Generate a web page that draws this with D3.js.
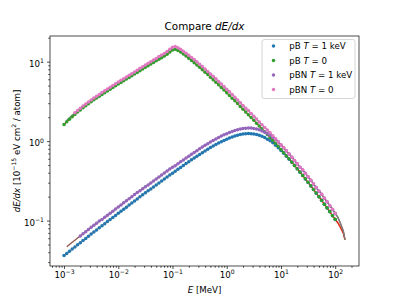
<!DOCTYPE html>
<html><head><meta charset="utf-8">
<script src="https://cdn.jsdelivr.net/npm/d3@7"></script>
<style>
body{margin:0;background:#fff}
svg{display:block}
text{font-family:"DejaVu Sans",sans-serif;fill:#000}
</style>
</head><body>
<svg id="chart" width="399" height="299"></svg>
<script>
// Energy grid [MeV]
const energy = [0.001,0.001122,0.001259,0.001413,0.001585,0.001778,0.001995,0.002239,0.002512,0.002818,
0.003162,0.003548,0.003981,0.004467,0.005012,0.005623,0.00631,0.007079,0.007943,0.008913,
0.01,0.01122,0.01259,0.01413,0.01585,0.01778,0.01995,0.02239,0.02512,0.02818,
0.03162,0.03548,0.03981,0.04467,0.05012,0.05623,0.0631,0.07079,0.07943,0.08913,
0.1,0.1122,0.1259,0.1413,0.1585,0.1778,0.1995,0.2239,0.2512,0.2818,
0.3162,0.3548,0.3981,0.4467,0.5012,0.5623,0.631,0.7079,0.7943,0.8913,
1,1.122,1.259,1.413,1.585,1.778,1.995,2.239,2.512,2.818,
3.162,3.548,3.981,4.467,5.012,5.623,6.31,7.079,7.943,8.913,
10,11.22,12.59,14.13,15.85,17.78,19.95,22.39,25.12,28.18,
31.62,35.48,39.81,44.67,50.12,56.23,63.1,70.79,79.43,89.13,
100];

const pB_1keV = [0.03631,0.03864,0.04111,0.04375,0.04656,0.04955,0.05272,0.05610,0.05970,0.06353,
0.06761,0.07194,0.07638,0.08110,0.08610,0.09141,0.09705,0.1030,0.1094,0.1161,
0.1233,0.1309,0.1390,0.1476,0.1567,0.1663,0.1766,0.1875,0.1991,0.2109,
0.2234,0.2366,0.2506,0.2655,0.2812,0.2979,0.3155,0.3342,0.3540,0.3741,
0.3954,0.4178,0.4416,0.4667,0.4932,0.5212,0.5508,0.5808,0.6124,0.6457,
0.6808,0.7161,0.7534,0.7907,0.8299,0.8690,0.9078,0.9462,0.9840,1.021,
1.057,1.091,1.125,1.156,1.183,1.208,1.227,1.239,1.245,1.242,
1.230,1.211,1.183,1.148,1.107,1.059,1.007,0.9506,0.8892,0.8260,
0.7638,0.7031,0.6457,0.5916,0.5408,0.4932,0.449,0.407,0.369,0.334,
0.302,0.273,0.246,0.221,0.199,0.179,0.160,0.144,0.129,0.115,
0.103];

const pB_T0 = [1.622,1.750,1.884,2.023,2.168,2.317,2.472,2.630,2.793,2.958,
3.126,3.304,3.483,3.673,3.873,4.074,4.285,4.508,4.742,4.977,
5.224,5.483,5.754,6.039,6.339,6.653,6.982,7.328,7.691,8.072,
8.472,8.892,9.333,9.772,10.23,10.72,11.22,11.75,12.39,13.24,
14.06,14.29,13.80,13.18,12.45,11.75,11.04,10.35,9.705,9.078,
8.492,7.925,7.379,6.871,6.383,5.929,5.508,5.105,4.732,4.385,
4.064,3.758,3.475,3.214,2.965,2.735,2.523,2.328,2.148,1.977,
1.824,1.679,1.549,1.426,1.312,1.208,1.112,1.023,0.940,0.861,
0.787,0.719,0.656,0.598,0.545,0.495,0.450,0.408,0.370,0.335,
0.303,0.274,0.247,0.222,0.200,0.180,0.161,0.145,0.130,0.116,
0.104];

const pBN_1keV = [0.04415,0.04699,0.04999,0.05320,0.05662,0.06025,0.06411,0.06822,0.07260,0.07725,
0.08221,0.08748,0.09288,0.09862,0.1035,0.1099,0.1167,0.1238,0.1315,0.1396,
0.1482,0.1573,0.1671,0.1774,0.1884,0.1999,0.2123,0.2254,0.2367,0.2508,
0.2656,0.2813,0.2980,0.3157,0.3343,0.3542,0.3751,0.3974,0.4209,0.4448,
0.4701,0.4909,0.5189,0.5484,0.5795,0.6124,0.6472,0.6824,0.7196,0.7587,
0.7999,0.8414,0.8852,0.9291,0.9751,1.021,1.067,1.112,1.156,1.200,
1.242,1.282,1.322,1.358,1.390,1.419,1.442,1.456,1.463,1.459,
1.445,1.422,1.387,1.343,1.297,1.245,1.189,1.122,1.052,0.9727,
0.8954,0.8241,0.7551,0.688,0.626,0.570,0.518,0.469,0.434,0.393,
0.355,0.321,0.289,0.260,0.234,0.214,0.191,0.172,0.154,0.138,
0.123];

const pBN_T0 = [1.698,1.832,1.973,2.118,2.270,2.426,2.588,2.769,2.941,3.115,
3.292,3.479,3.668,3.868,4.098,4.310,4.534,4.769,5.017,5.266,
5.527,5.823,6.111,6.413,6.732,7.065,7.415,7.782,8.245,8.653,
9.082,9.532,10.00,10.48,10.97,11.59,12.13,12.70,13.39,14.31,
15.20,15.53,15.00,14.33,13.53,12.77,12.00,11.25,10.64,9.950,
9.307,8.686,8.087,7.531,6.996,6.557,6.092,5.646,5.234,4.850,
4.495,4.179,3.864,3.574,3.297,3.041,2.806,2.589,2.421,2.228,
2.056,1.892,1.746,1.607,1.479,1.380,1.270,1.168,1.073,0.983,
0.899,0.829,0.756,0.689,0.628,0.571,0.519,0.470,0.435,0.394,
0.356,0.322,0.290,0.261,0.235,0.215,0.192,0.173,0.155,0.139,
0.124];

// continuous curves extend beyond the sampled points
const tailEnergy = [112.2,125.9,141.3,151.4];
const pB_tail = [0.0933,0.0813,0.0692,0.0575];
const pBN_tail = [0.1096,0.0912,0.0741,0.0575];

// first energy at which each dotted series is shown
const dotStartE = [0.001, 0.001, 0.0019, 0.0015];
const lineStartE = [0.001, 0.001, 0.0011, 0.0011];

const seriesNames = ["pB", "pB", "pBN", "pBN"];
const seriesTLabel = ["1 keV", "0", "1 keV", "0"];
const dotColors = ["#1f77b4", "#2ca02c", "#9467bd", "#e377c2"];
const lineColors = ["#ff7f0e", "#d62728", "#8c564b", "#7f7f7f"];

const xMajor = [1e-3, 1e-2, 1e-1, 1, 10, 100];
const xMajorExp = ["\u22123", "\u22122", "\u22121", "0", "1", "2"];
const yMajor = [0.1, 1, 10];
const yMajorExp = ["\u22121", "0", "1"];

// ---------------------------------------------------------------
const seriesVals = [pB_1keV, pB_T0, pBN_1keV, pBN_T0];
const seriesTails = [pB_tail, pB_tail, pBN_tail, pBN_tail];

const svg = d3.select("#chart");
const L = 50, R = 359, T = 36, B = 266;

const allE = energy.concat(tailEnergy);
const allV = seriesVals.flat().concat(pB_tail, pBN_tail);
function padLog(ext){ const a=Math.log10(ext[0]), b=Math.log10(ext[1]), p=0.05*(b-a); return [10**(a-p), 10**(b+p)]; }
const x = d3.scaleLog().domain(padLog(d3.extent(allE))).range([L, R]);
const y = d3.scaleLog().domain(padLog(d3.extent(allV))).range([B, T]);

const clip = svg.append("clipPath").attr("id","clip").append("rect")
  .attr("x",L).attr("y",T).attr("width",R-L).attr("height",B-T);
const plot = svg.append("g").attr("clip-path","url(#clip)");

const line = d3.line().x(d=>x(d[0])).y(d=>y(d[1]));
seriesVals.forEach((vals,k)=>{
  const pts = energy.map((e,i)=>[e, vals[i]]).filter(d=>d[0] >= lineStartE[k])
    .concat(tailEnergy.map((e,i)=>[e, seriesTails[k][i]]));
  plot.append("path").attr("d", line(pts)).attr("fill","none")
    .attr("stroke", lineColors[k]).attr("stroke-width",1.3);
});
seriesVals.forEach((vals,k)=>{
  const pts = energy.map((e,i)=>[e, vals[i]]).filter(d=>d[0] >= dotStartE[k]);
  plot.append("g").selectAll("circle").data(pts).join("circle")
    .attr("cx", d=>x(d[0])).attr("cy", d=>y(d[1])).attr("r",1.75)
    .attr("fill", dotColors[k]);
});

// minor tick values
function minors(scale){
  const [a,b] = scale.domain(); const out=[];
  for(let e=Math.floor(Math.log10(a)); e<=Math.ceil(Math.log10(b)); e++)
    for(let m=2;m<=9;m++){ const v=m*10**e; if(v>=a && v<=b) out.push(v); }
  return out;
}

// x axis
const gxMinor = svg.append("g").attr("transform",`translate(0,${B})`)
  .call(d3.axisBottom(x).tickValues(minors(x)).tickSize(1.75).tickFormat(""));
const gx = svg.append("g").attr("transform",`translate(0,${B})`)
  .call(d3.axisBottom(x).tickValues(xMajor).tickSize(3).tickFormat(""));
gx.selectAll(".tick").append("text").attr("y",11.6).attr("text-anchor","middle")
  .style("font-size","8.66px")
  .each(function(d,i){
    const t=d3.select(this);
    t.append("tspan").text("10");
    t.append("tspan").attr("dy",-3.6).style("font-size","6.1px").text(xMajorExp[i]);
  });
// shift labels so "10^e" group is centered on the tick
gx.selectAll(".tick text").attr("dx", function(){ return 0; });

// y axis
const gyMinor = svg.append("g").attr("transform",`translate(${L},0)`)
  .call(d3.axisLeft(y).tickValues(minors(y)).tickSize(1.75).tickFormat(""));
const gy = svg.append("g").attr("transform",`translate(${L},0)`)
  .call(d3.axisLeft(y).tickValues(yMajor).tickSize(3).tickFormat(""));
gy.selectAll(".tick").append("text").attr("x",-6).attr("y",4.5).attr("text-anchor","end")
  .style("font-size","8.66px")
  .each(function(d,i){
    const t=d3.select(this);
    t.append("tspan").text("10");
    t.append("tspan").attr("dy",-3.6).style("font-size","6.1px").text(yMajorExp[i]);
  });

[gx,gy,gxMinor,gyMinor].forEach(g=>{
  g.select(".domain").remove();
  g.selectAll(".tick line").attr("stroke","#000").attr("stroke-width",0.7);
});

svg.append("rect").attr("x",L).attr("y",T).attr("width",R-L).attr("height",B-T)
  .attr("fill","none").attr("stroke","#000").attr("stroke-width",0.7);

// title & labels
const title = svg.append("text").attr("x",(L+R)/2).attr("y",30).attr("text-anchor","middle")
  .style("font-size","10.4px");
title.append("tspan").text("Compare ");
title.append("tspan").style("font-style","italic").text("dE/dx");

const xl = svg.append("text").attr("x",(L+R)/2).attr("y",292.5).attr("text-anchor","middle")
  .style("font-size","8.66px");
xl.append("tspan").style("font-style","italic").text("E");
xl.append("tspan").text(" [MeV]");

const yl = svg.append("text").attr("transform",`translate(19.5,${(T+B)/2}) rotate(-90)`)
  .attr("text-anchor","middle").style("font-size","8.66px");
yl.append("tspan").style("font-style","italic").text("dE/dx");
yl.append("tspan").text(" [10");
yl.append("tspan").attr("dy",-3.6).style("font-size","6.1px").text("\u221215");
yl.append("tspan").attr("dy",3.6).text(" eV cm");
yl.append("tspan").attr("dy",-3.6).style("font-size","6.1px").text("2");
yl.append("tspan").attr("dy",3.6).text(" / atom]");

// legend
const lg = svg.append("g");
lg.append("rect").attr("x",262).attr("y",39.5).attr("width",93).attr("height",59).attr("rx",2.5)
  .attr("fill","#fff").attr("fill-opacity",0.8).attr("stroke","#cccccc").attr("stroke-width",0.8);
seriesNames.forEach((nm,k)=>{
  const cy = 45.9 + k*14.5;
  lg.append("circle").attr("cx",273.5).attr("cy",cy).attr("r",1.75).attr("fill",dotColors[k]);
  const t = lg.append("text").attr("x",289.3).attr("y",cy+3.1).style("font-size","8.66px");
  t.append("tspan").text(nm+" ");
  t.append("tspan").style("font-style","italic").text("T");
  t.append("tspan").text(" = "+seriesTLabel[k]);
});
</script>
</body></html>
